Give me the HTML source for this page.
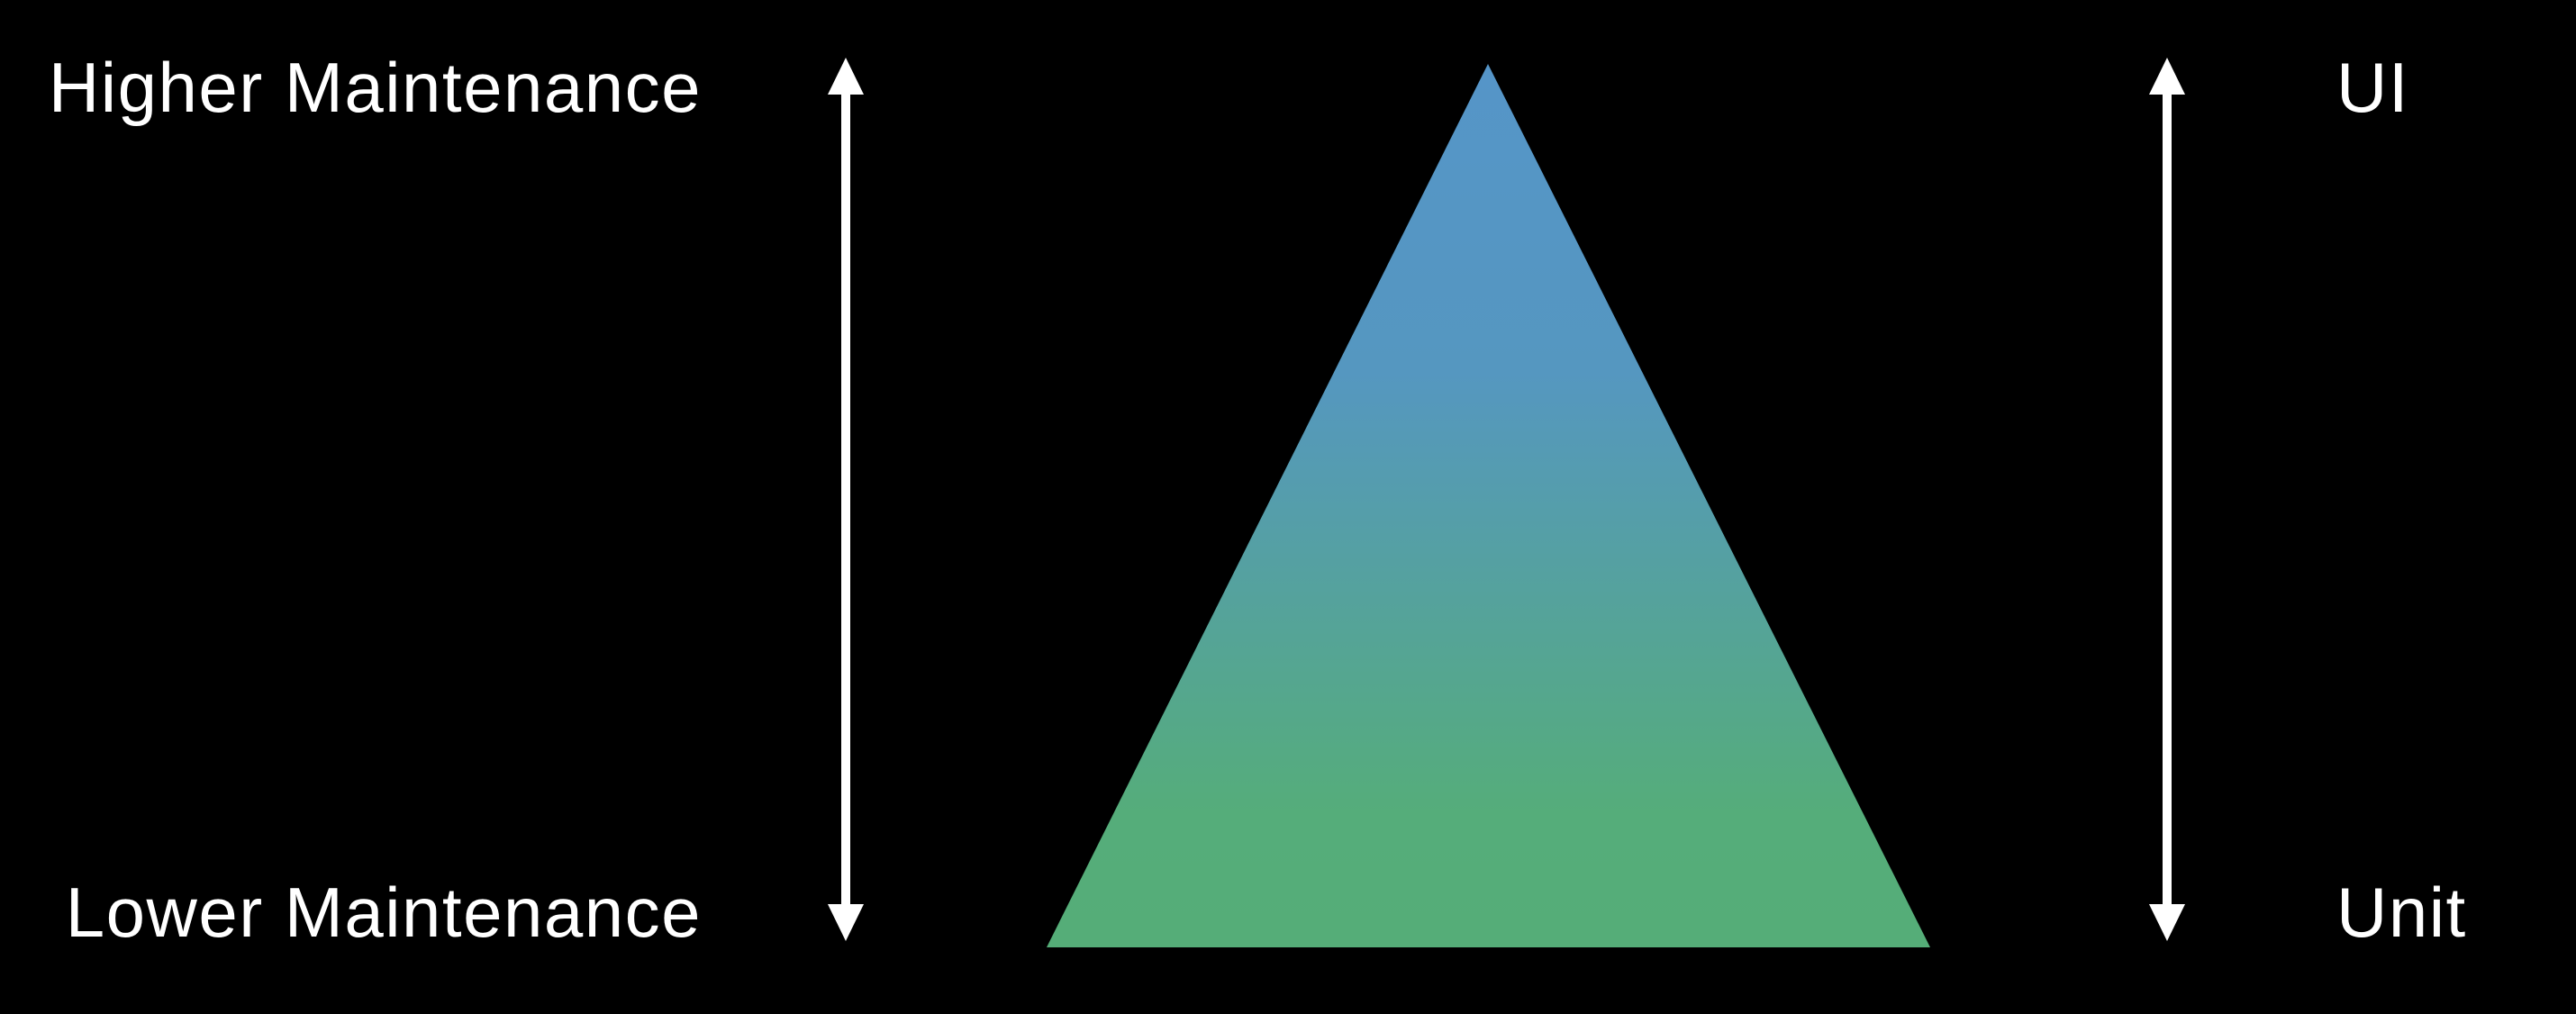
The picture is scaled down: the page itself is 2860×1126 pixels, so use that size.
<!DOCTYPE html>
<html><head><style>
html,body{margin:0;padding:0;background:#000;width:2860px;height:1126px;overflow:hidden}
svg text{font-family:"Liberation Sans",sans-serif;fill:#fff;font-size:78px;letter-spacing:1.5px}
</style></head><body>
<svg width="2860" height="1126" xmlns="http://www.w3.org/2000/svg">
<defs><linearGradient id="g" x1="0" y1="0" x2="0" y2="1">
<stop offset="0" stop-color="#5595c8"/><stop offset="0.35" stop-color="#5597c0"/><stop offset="0.85" stop-color="#55ad7a"/><stop offset="1" stop-color="#55ad78"/></linearGradient></defs>
<polygon points="1652,71 2143,1052 1162,1052" fill="url(#g)"/>
<g fill="#fff">
<rect x="934" y="100" width="10" height="910"/>
<polygon points="939,64 959,105 919,105"/>
<polygon points="939,1045 959,1004 919,1004"/>
</g>
<g fill="#fff">
<rect x="2401" y="100" width="10" height="910"/>
<polygon points="2406,64 2426,105 2386,105"/>
<polygon points="2406,1045 2426,1004 2386,1004"/>
</g>
<text x="779" y="124" text-anchor="end">Higher Maintenance</text>
<text x="779" y="1040" text-anchor="end">Lower Maintenance</text>
<text x="2594" y="124">UI</text>
<text x="2594" y="1040">Unit</text>
</svg>
</body></html>
